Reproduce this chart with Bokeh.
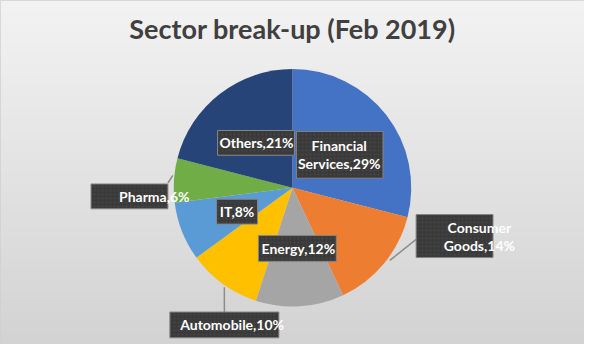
import numpy as np
from bokeh.plotting import figure
from bokeh.models import Range1d, ColumnDataSource
from bokeh.core.properties import value
from bokeh.embed import file_html
from bokeh.resources import INLINE

# ---- data ----
title_text = "Sector break-up (Feb 2019)"
sectors = ["Financial Services", "Consumer Goods", "Energy", "Automobile", "IT", "Pharma", "Others"]
shares = [29, 14, 12, 10, 8, 6, 21]
colors = ["#4472C4", "#ED7D31", "#A5A5A5", "#FFC000", "#5B9BD5", "#70AD47", "#264478"]

# ---- layout (reference pixel coordinates, y measured from top) ----
W, H = 600, 360
CX, CY, R = 300, 196, 122
wrap = [True, True, False, False, False, False, False]
# label box (x0, x1, y0, y1) and text centre (cx, cy)
boxes = [(304, 393, 137, 186), (427, 506, 224, 269), (265, 345, 246, 273),
         (174, 286, 326, 353), (222, 264, 208, 234), (93, 172, 192, 218),
         (223, 302, 136, 162)]
text_pos = [(348, 161), (492, 247), (306, 260), (238, 339), (243, 221), (158, 205), (263, 149)]
leaders = [(427, 250, 400, 272), (230, 326, 230, 300), (172, 191, 177, 183)]

def fy(y):
    return H - y

p = figure(width=584, height=344, output_backend="svg", toolbar_location=None,
           x_range=Range1d(0, W), y_range=Range1d(0, H), min_border=0)
p.axis.visible = False
p.grid.visible = False
p.outline_line_color = "#d0d0d0"
p.background_fill_color = "#e4e4e4"
p.border_fill_color = "#e4e4e4"

# background gradient
n = 180
shade = np.linspace(211, 243, n).astype(np.uint32)
img = np.empty((n, 2), dtype=np.uint32)
view = img.view(dtype=np.uint8).reshape((n, 2, 4))
for i in range(n):
    view[i, :, 0] = shade[i]
    view[i, :, 1] = shade[i]
    view[i, :, 2] = shade[i]
    view[i, :, 3] = 255
p.image_rgba(image=[img], x=0, y=0, dw=W, dh=H)

# pie wedges
vals = np.array(shares, dtype=float)
frac = vals / vals.sum()
c1 = np.cumsum(frac)
c0 = c1 - frac
src = ColumnDataSource(dict(
    start=np.pi / 2 - 2 * np.pi * c1,
    end=np.pi / 2 - 2 * np.pi * c0,
    color=colors, sector=sectors))
p.wedge(x=CX, y=fy(CY), radius=R, start_angle="start", end_angle="end",
        fill_color="color", line_color=None, source=src)

# leader lines
p.segment(x0=[l[0] for l in leaders], y0=[fy(l[1]) for l in leaders],
          x1=[l[2] for l in leaders], y1=[fy(l[3]) for l in leaders],
          line_color="#8c8c8c", line_width=1.5)

# label boxes
p.quad(left=[b[0] for b in boxes], right=[b[1] for b in boxes],
       bottom=[fy(b[3]) for b in boxes], top=[fy(b[2]) for b in boxes],
       fill_color="#3a3a3a", line_color="#858585", line_width=1,
       hatch_pattern=".", hatch_color="#474747", hatch_scale=4)

# label texts
tx, ty, tt = [], [], []
for name, share, wr, (cx, cy) in zip(sectors, shares, wrap, text_pos):
    full = f"{name},{share}%"
    if wr:
        a, b = full.split(" ", 1)
        tx += [cx, cx]
        ty += [fy(cy - 9.5), fy(cy + 9.5)]
        tt += [a, b]
    else:
        tx.append(cx)
        ty.append(fy(cy))
        tt.append(full)
p.text(x=tx, y=ty, text=tt, text_font=value("Lato"), text_font_style="bold",
       text_font_size="14px", text_color="white", text_align="center",
       text_baseline="middle")

# title
p.text(x=[300], y=[fy(29)], text=[title_text], text_font=value("Lato"),
       text_font_style="bold", text_font_size="27px", text_color="#404040",
       text_align="center", text_baseline="alphabetic")

open("out.html", "w").write(file_html(p, INLINE))
